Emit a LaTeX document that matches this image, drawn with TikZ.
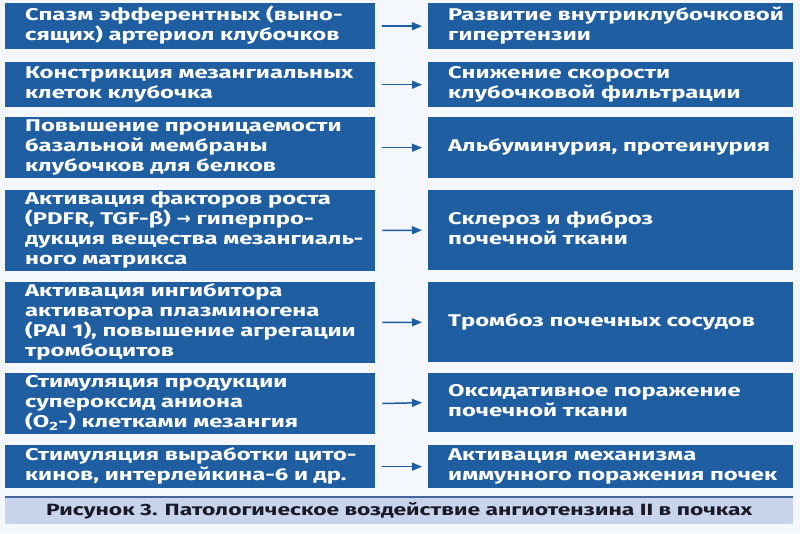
\documentclass[tikz,border=0pt]{standalone}
\usepackage{fontspec}
\setmainfont{Fira Sans}[FakeStretch=1.40]
\newfontfamily\dv{DejaVu Sans}
\usetikzlibrary{arrows.meta}
\definecolor{boxblue}{RGB}{31,94,160}
\definecolor{bgc}{RGB}{244,247,252}
\definecolor{capfill}{RGB}{200,212,236}
\definecolor{capline}{RGB}{70,100,160}
\definecolor{captext}{RGB}{25,25,40}
\newcommand\boxtxt[1]{\hspace*{20pt}\begin{tabular}{@{}l@{}}#1\end{tabular}}
\tikzset{
  lbox/.style={fill=boxblue, text=white, font=\bfseries\fontsize{17}{20}\selectfont,
    inner xsep=0pt, inner ysep=0pt, text width=370pt, align=left, anchor=north west},
  rbox/.style={fill=boxblue, text=white, font=\bfseries\fontsize{17}{20}\selectfont,
    inner xsep=0pt, inner ysep=0pt, text width=365pt, align=left, anchor=north west},
  conn/.style={draw=boxblue, line width=1.5pt, -{Triangle[length=10pt,width=8pt]}}
}
\begin{document}
\begin{tikzpicture}[x=1pt,y=1pt]
\fill[bgc] (0,0) rectangle (800,533);
\useasboundingbox (0,0) rectangle (800,533);
\node[lbox, minimum height=46pt] (l1) at (5,530) {\boxtxt{Спазм эфферентных (выно-\\сящих) артериол клубочков}};
\node[rbox, minimum height=46pt] (r1) at (428,530) {\boxtxt{Развитие внутриклубочковой\\гипертензии}};
\node[lbox, minimum height=45pt] (l2) at (5,471) {\boxtxt{Констрикция мезангиальных\\клеток клубочка}};
\node[rbox, minimum height=45pt] (r2) at (428,471) {\boxtxt{Снижение скорости\\клубочковой фильтрации}};
\node[lbox, minimum height=61pt] (l3) at (5,416) {\boxtxt{Повышение проницаемости\\базальной мембраны\\клубочков для белков}};
\node[rbox, minimum height=61pt] (r3) at (428,416) {\boxtxt{Альбуминурия, протеинурия}};
\node[lbox, minimum height=80pt] (l4) at (5,343) {\boxtxt{Активация факторов роста\\(PDFR, TGF-β) {\dv →} гиперпро-\\дукция вещества мезангиаль-\\ного матрикса}};
\node[rbox, minimum height=80pt] (r4) at (428,343) {\boxtxt{Склероз и фиброз\\почечной ткани}};
\node[lbox, minimum height=80pt] (l5) at (5,251) {\boxtxt{Активация ингибитора\\активатора плазминогена\\(PAI 1), повышение агрегации\\тромбоцитов}};
\node[rbox, minimum height=80pt] (r5) at (428,251) {\boxtxt{Тромбоз почечных сосудов}};
\node[lbox, minimum height=59pt] (l6) at (5,160) {\boxtxt{Стимуляция продукции\\супероксид аниона\\(O\textsubscript{2}-) клетками мезангия}};
\node[rbox, minimum height=59pt] (r6) at (428,160) {\boxtxt{Оксидативное поражение\\почечной ткани}};
\node[lbox, minimum height=43pt] (l7) at (5,88) {\boxtxt{Стимуляция выработки цито-\\кинов, интерлейкина-6 и др.}};
\node[rbox, minimum height=43pt] (r7) at (428,88) {\boxtxt{Активация механизма\\иммунного поражения почек}};
\foreach \i in {1,...,7}{
  \draw[conn] ([xshift=7pt]l\i.east) -- ([xshift=-6pt]r\i.west);
}
\node[fill=capfill, draw=none, minimum width=788pt, minimum height=27pt, anchor=north west,
  font=\bfseries\fontsize{16.3}{19}\selectfont, text=captext] (cap) at (5,36) {Рисунок 3. Патологическое воздействие ангиотензина II в почках};
\draw[capline, line width=1.5pt] (cap.north west) -- (cap.north east);
\end{tikzpicture}
\end{document}
